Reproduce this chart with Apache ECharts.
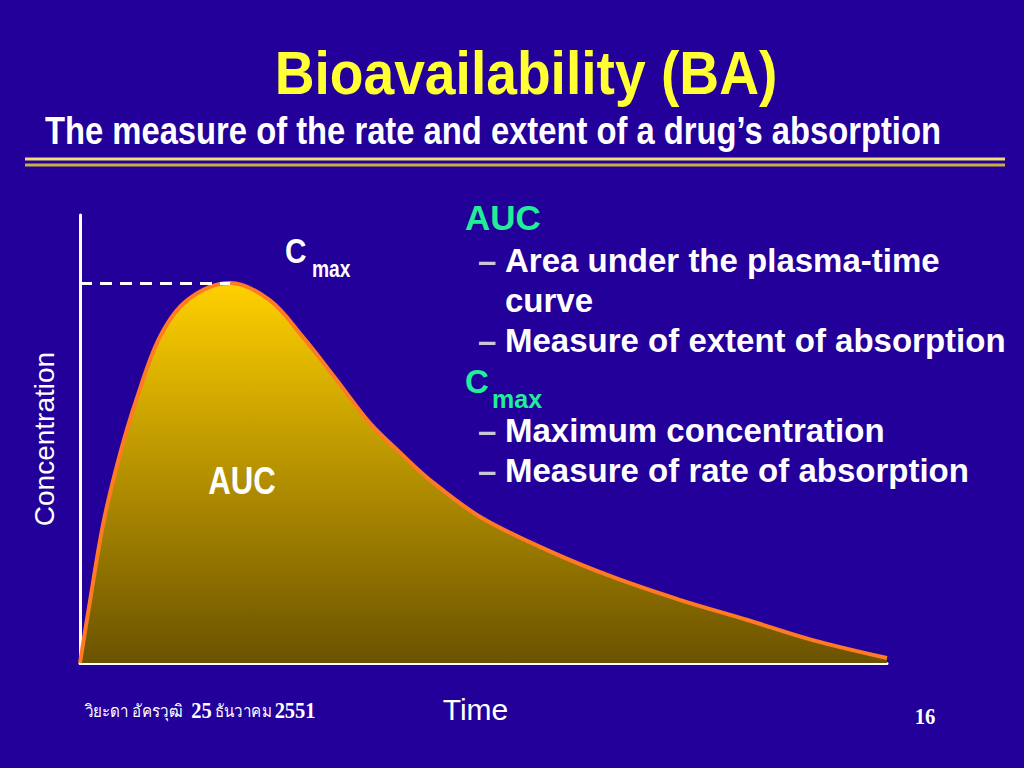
<!DOCTYPE html>
<html>
<head>
<meta charset="utf-8">
<style>
html,body{margin:0;padding:0;background:#220099;}
#chart{width:1024px;height:768px;}
</style>
<script src="https://cdn.jsdelivr.net/npm/echarts@6/dist/echarts.min.js"></script>
</head>
<body>
<div id="chart"></div>
<script>
// Data (time in % of axis, concentration in % of axis height)
const timeValues = [0, 1.2, 2.9, 5.0, 7.1, 9.9, 13.3, 18.6, 23.5, 27.6, 31.8, 35.9, 39.7, 43.4, 49.6, 57.9, 66.0, 74.3, 82.7, 90.8, 100];
const concentrationValues = [0, 13.4, 31.3, 46.9, 59.4, 72.8, 81.0, 84.8, 81.0, 72.8, 63.2, 53.6, 46.9, 40.8, 32.6, 25.2, 19.2, 14.1, 9.6, 5.1, 1.1];
const cmaxTime = 18.6;
const cmaxValue = 84.8;

const titleText = 'Bioavailability (BA)';
const subtitleText = 'The measure of the rate and extent of a drug\u2019s absorption';
const footerName = 'วิยะดา อัครวุฒิ';
const footerDay = '25';
const footerMonth = 'ธันวาคม';
const footerYear = '2551';
const pageNumber = '16';

const bulletLines = [
  {text: '\u2013', x: 478, y: 260, c: '#c8c8d8'}, {text: 'Area under the plasma-time', x: 505, y: 260},
  {text: 'curve', x: 505, y: 300},
  {text: '\u2013', x: 478, y: 340, c: '#c8c8d8'}, {text: 'Measure of extent of absorption', x: 505, y: 340},
  {text: '\u2013', x: 478, y: 430, c: '#c8c8d8'}, {text: 'Maximum concentration', x: 505, y: 430},
  {text: '\u2013', x: 478, y: 470, c: '#c8c8d8'}, {text: 'Measure of rate of absorption', x: 505, y: 470}
];

const seriesData = timeValues.map((t, i) => [t, concentrationValues[i]]);

const chart = echarts.init(document.getElementById('chart'), null, {renderer: 'svg'});

const sans = '"Liberation Sans", Arial, sans-serif';
const serif = '"Liberation Serif", "Times New Roman", serif';
const shadowDark = {shadowColor: 'rgba(0,0,0,0.85)', shadowOffsetX: 2, shadowOffsetY: 2, shadowBlur: 1};

const graphics = [
  // title
  {type: 'text', x: 526, y: 72, scaleX: 0.89, style: Object.assign({text: titleText, fill: '#ffff33', font: 'bold 62px ' + sans, align: 'center', verticalAlign: 'middle'}, {shadowColor: 'rgba(0,0,0,0.85)', shadowOffsetX: 3, shadowOffsetY: 3, shadowBlur: 2})},
  {type: 'text', x: 45, y: 131, scaleX: 0.862, style: {text: subtitleText, fill: '#ffffff', font: 'bold 38px ' + sans, verticalAlign: 'middle'}},
  // double rule
  {type: 'line', shape: {x1: 25, y1: 159, x2: 1005, y2: 159}, style: {stroke: '#f0dc70', lineWidth: 3}},
  {type: 'line', shape: {x1: 25, y1: 165, x2: 1005, y2: 165}, style: {stroke: '#c8b040', lineWidth: 3}},
  // right column
  {type: 'text', x: 465, y: 217, style: Object.assign({text: 'AUC', fill: '#22ee99', font: 'bold 35px ' + sans, verticalAlign: 'middle'}, shadowDark)},
  {type: 'text', x: 465, y: 381, style: Object.assign({text: 'C', fill: '#22ee99', font: 'bold 33px ' + sans, verticalAlign: 'middle'}, shadowDark)},
  {type: 'text', x: 492, y: 399, style: Object.assign({text: 'max', fill: '#22ee99', font: 'bold 25px ' + sans, verticalAlign: 'middle'}, shadowDark)},
  // in-chart labels
  {type: 'text', x: 285, y: 251, scaleX: 0.85, style: {text: 'C', fill: '#ffffff', font: 'bold 35px ' + sans, verticalAlign: 'middle'}},
  {type: 'text', x: 312, y: 269, scaleX: 0.8, style: {text: 'max', fill: '#ffffff', font: 'bold 24px ' + sans, verticalAlign: 'middle'}},
  {type: 'text', x: 242, y: 481, scaleX: 0.82, style: {text: 'AUC', fill: '#ffffff', font: 'bold 38px ' + sans, align: 'center', verticalAlign: 'middle'}, z: 100},
  // footer
  {type: 'text', x: 85, y: 711, scaleX: 0.89, style: {
    text: '{t|' + footerName + '}   {n|' + footerDay + '} {t|' + footerMonth + '} {n|' + footerYear + '}',
    verticalAlign: 'middle',
    rich: {
      t: {fill: '#ffffff', font: '17px "Noto Sans", sans-serif', verticalAlign: 'middle'},
      n: {fill: '#ffffff', font: 'bold 23px ' + serif, verticalAlign: 'middle'}
    }
  }},
  {type: 'text', x: 925, y: 717, scaleX: 0.9, style: {text: pageNumber, fill: '#ffffff', font: 'bold 23px ' + serif, align: 'center', verticalAlign: 'middle'}}
];
bulletLines.forEach(b => {
  graphics.push({type: 'text', x: b.x, y: b.y, style: {text: b.text, fill: b.c || '#ffffff', font: 'bold 33px ' + sans, verticalAlign: 'middle'}});
});

chart.setOption({
  backgroundColor: '#220099',
  animation: false,
  grid: {left: 80, right: 137, top: 215, bottom: 105},
  xAxis: {
    type: 'value', min: 0, max: 100,
    name: 'Time', nameLocation: 'middle', nameGap: 31,
    nameTextStyle: {color: '#ffffff', fontSize: 30, fontFamily: sans, padding: [0, 16, 0, 0]},
    axisLine: {show: true, lineStyle: {color: '#ffffff', width: 3}},
    axisTick: {show: false}, axisLabel: {show: false}, splitLine: {show: false}
  },
  yAxis: {
    type: 'value', min: 0, max: 100,
    name: 'Concentration', nameLocation: 'middle', nameGap: 22,
    nameTextStyle: {color: '#ffffff', fontSize: 28, fontFamily: sans},
    axisLine: {show: true, lineStyle: {color: '#ffffff', width: 3}},
    axisTick: {show: false}, axisLabel: {show: false}, splitLine: {show: false}
  },
  series: [{
    type: 'line',
    data: seriesData,
    smooth: 0.35,
    symbol: 'none',
    lineStyle: {color: '#ff7a22', width: 4},
    areaStyle: {
      opacity: 1,
      color: {type: 'linear', x: 0, y: 0, x2: 0, y2: 1, colorStops: [
        {offset: 0, color: '#ffd000'},
        {offset: 1, color: '#6b5200'}
      ]}
    },
    markLine: {
      silent: true, symbol: 'none', label: {show: false},
      lineStyle: {color: '#ffffff', type: [12, 8], width: 3},
      data: [[{coord: [0, cmaxValue]}, {coord: [cmaxTime, cmaxValue]}]]
    },
    z: 2
  }],
  graphic: graphics
});
</script>
</body>
</html>
